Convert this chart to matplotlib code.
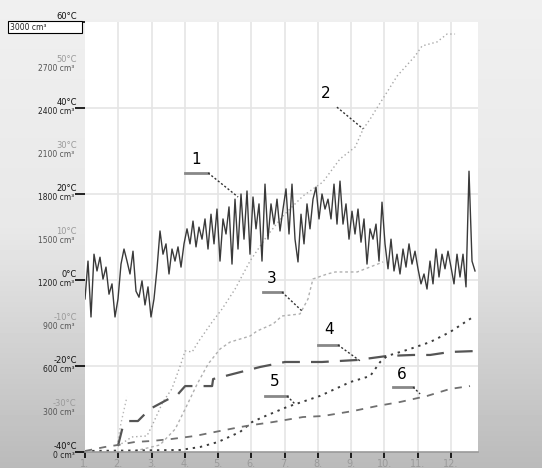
import numpy as np
import matplotlib
matplotlib.use("Agg")
import matplotlib.pyplot as plt
from matplotlib.patches import Rectangle
from matplotlib.transforms import offset_copy

# daily-ish temperature readings (deg C), spread evenly over the year
temps = [
    -4.4, 4.4, -8.6, 6.0, 2.1, 5.3,
    0.2, 3.0, -3.3, -0.9, -8.6, -4.4,
    3.7, 7.2, 4.4, 1.4, 6.7, -2.6,
    -4.0, -0.2, -5.8, -1.6, -8.6, -4.4,
    2.6, 11.4, 6.0, 8.4, 1.4, 7.2,
    4.4, 7.7, 3.0, 8.4, 11.9, 8.4,
    13.7, 7.7, 12.3, 9.5, 14.2, 7.2,
    15.3, 8.4, 16.5, 4.4, 14.2, 10.7,
    17.0, 3.7, 18.8, 7.2, 20.0, 9.5,
    20.7, 6.0, 19.3, 11.9, 17.7, 4.4,
    22.3, 9.5, 17.7, 13.0, 18.8, 11.4,
    16.5, 21.2, 10.7, 22.3, 9.5, 4.2,
    15.3, 8.4, 17.7, 11.9, 18.8, 21.6,
    14.2, 20.0, 16.5, 18.8, 14.2, 22.3,
    13.0, 23.0, 13.0, 17.7, 9.5, 16.0,
    10.7, 16.5, 8.8, 14.2, 3.7, 11.9,
    9.5, 13.0, 4.4, 18.1, 8.4, 2.6,
    9.5, 2.1, 6.0, 1.4, 7.2, 3.0,
    8.4, 3.7, 6.7, 2.6, -0.9, 1.4,
    -2.1, 4.4, -0.9, 7.2, 0.7, 6.0,
    2.6, 6.7, 3.0, -0.9, 6.0, 0.7,
    6.0, -1.6, 25.3, 4.4, 2.1,
]
temp_months = np.linspace(1.0, 12.72, len(temps))

# cumulative volumes (cm3) against month
line2_m = [1.99, 2.41, 2.86, 3.01, 3.34, 3.61, 3.86, 4.01, 4.22, 4.40, 4.82, 5.12, 5.51, 5.96,
           6.47, 6.95, 7.55, 8.15, 8.66, 9.12, 9.36, 9.57, 9.81, 10.08, 10.38, 10.92, 11.13,
           11.58, 11.88, 12.12]
line2_v = [42, 105, 112, 181, 349, 440, 600, 705, 698, 767, 907, 998, 1137, 1333,
           1507, 1647, 1786, 1884, 2044, 2128, 2254, 2323, 2414, 2512, 2623, 2763, 2833,
           2861, 2916, 2916]
spike_m = [1.96, 2.08, 2.26]
spike_v = [42, 200, 384]

line3_m = [2.50, 3.25, 3.71, 4.01, 4.37, 4.70, 5.06, 5.36, 5.96, 6.17, 6.65, 6.92, 7.46, 7.70,
           7.85, 8.28, 8.52, 9.18, 9.57, 9.96]
line3_v = [7, 49, 160, 300, 474, 614, 719, 767, 809, 844, 893, 949, 963, 1067,
           1207, 1242, 1256, 1256, 1291, 1326]

line4_m = [1.99, 2.14, 2.29, 2.59, 2.95, 3.40, 3.80, 4.01, 4.82, 4.85, 5.21, 6.26, 7.01, 8.12,
           9.18, 10.08, 10.86, 11.37, 11.97, 12.81]
line4_v = [42, 181, 216, 216, 300, 356, 405, 460, 460, 509, 530, 593, 628, 628,
           642, 670, 677, 677, 698, 705]

line5_m = [1.0, 3.86, 4.46, 5.00, 5.66, 6.02, 6.35, 7.07, 8.06, 8.97, 9.57, 9.87, 10.08, 10.77,
           11.37, 11.97, 12.66]
line5_v = [7, 14, 35, 70, 140, 209, 244, 314, 391, 488, 530, 628, 670, 719,
           767, 837, 942]

line6_m = [1.0, 1.60, 1.99, 2.50, 3.01, 3.61, 4.31, 4.91, 5.66, 6.02, 6.65, 7.55, 8.15, 9.06,
           9.78, 10.47, 11.28, 11.97, 12.57]
line6_v = [7, 35, 49, 70, 77, 91, 112, 140, 174, 188, 209, 244, 251, 286,
           321, 349, 391, 440, 460]

month_labels = ["1.", "2.", "3.", "4.", "5.", "6.", "7.", "8.", "9.", "10.", "11.", "12."]
temp_ticks = [-40, -30, -20, -10, 0, 10, 20, 30, 40, 50, 60]
vol_ticks = [0, 300, 600, 900, 1200, 1500, 1800, 2100, 2400, 2700, 3000]

# callout labels: number, text pos, underline (x0, x1, y), leader end
callouts = [
    ("1", (4.34, 1995), (4.01, 4.70, 1947), (5.60, 1779)),
    ("2", (8.24, 2456), None, (9.36, 2254)),
    ("3", (6.62, 1165), (6.35, 6.92, 1116), (7.52, 984)),
    ("4", (8.33, 809), (8.00, 8.60, 747), (9.27, 635)),
    ("5", (6.71, 447), (6.41, 7.07, 391), (7.31, 335)),
    ("6", (10.53, 495), (10.26, 10.86, 453), (11.07, 405)),
]

W, H = 542, 477
fig = plt.figure(figsize=(W / 100, H / 100), dpi=100)
fig.patch.set_facecolor("white")

# grey gradient backdrop
bg = fig.add_axes([0, 0, 1, 1])
rows = np.interp(np.arange(H), [0, 230, 468], [0.94, 0.91, 0.73])
rows[469:] = 1.0
grad = np.repeat(rows[:, None], 10, axis=1)
bg.imshow(grad, cmap="gray", vmin=0, vmax=1, aspect="auto", extent=[0, 1, 0, 1])
bg.axis("off")

ax = fig.add_axes([85 / W, (H - 453) / H, (478 - 85) / W, (453 - 23) / H])
ax.set_facecolor("white")
ax.set_xlim(1, 12.81)
ax.set_ylim(0, 3000)

for m in range(2, 13):
    ax.axvline(m, color="#e5e5e5", lw=1.2, zorder=0)
for v in [600, 1200, 1800, 2400]:
    ax.axhline(v, color="#e5e5e5", lw=1.2, zorder=0)

ax.plot(line2_m, line2_v, color="#a8a8a8", lw=1.0, dashes=(1, 2))
ax.plot(spike_m, spike_v, color="#b8b8b8", lw=1.0, dashes=(1, 2))
ax.plot(line3_m, line3_v, color="#b0b0b0", lw=1.0, dashes=(2, 2))
ax.plot(line4_m, line4_v, color="#555555", lw=1.6, dashes=(8, 5))
ax.plot(line5_m, line5_v, color="#3c3c3c", lw=1.4, dashes=(1.2, 2.5))
ax.plot(line6_m, line6_v, color="#707070", lw=1.3, dashes=(4, 4))

ax2 = ax.twinx()
ax2.set_ylim(-40, 60)
ax2.axis("off")
ax2.plot(temp_months, temps, color="#3a3a3a", lw=1.0)

for num, (tx, ty), ul, (lx, ly) in callouts:
    ax.text(tx, ty, num, fontsize=11, ha="center", va="bottom", color="black")
    if ul is not None:
        ax.plot([ul[0], ul[1]], [ul[2], ul[2]], color="#888888", lw=2)
        ax.plot([ul[1], lx], [ul[2], ly], color="#333333", lw=1, dashes=(1.5, 1.5))
    else:
        ax.plot([tx + 0.33, lx], [ty - 50, ly], color="#333333", lw=1, dashes=(1.5, 1.5))

for s in ["top", "left", "right"]:
    ax.spines[s].set_visible(False)
ax.spines["bottom"].set_color("#999999")
ax.spines["bottom"].set_linewidth(1.2)

ax.set_xticks(range(1, 13))
ax.set_xticklabels(month_labels, fontsize=7, color="#9a9a9a")
ax.tick_params(axis="x", length=4, width=1.2, color="black", pad=0.5)
ax.set_yticks([0, 600, 1200, 1800, 2400, 3000])
ax.set_yticklabels([])
ax.tick_params(axis="y", length=7, width=1.2, color="black")

ytrans = ax.get_yaxis_transform()
t_deg = offset_copy(ytrans, fig=fig, x=-6, y=5, units="points")
t_vol = offset_copy(ytrans, fig=fig, x=-7.5, y=-2, units="points")
for i, (t, v) in enumerate(zip(temp_ticks, vol_ticks)):
    major = i % 2 == 0
    ax.text(0, v, f"{t}°C", transform=t_deg, ha="right", va="center",
            fontsize=6, color="#111111" if major else "#9a9a9a")
    if v == 3000:
        continue
    ax.text(0, v, f"{v} cm³", transform=t_vol, ha="right", va="center",
            fontsize=5.5, color="#222222" if major else "#555555")

# boxed top value
fig.patches.append(Rectangle((8 / W, 1 - 34 / H), 74 / W, 12 / H, transform=fig.transFigure,
                             facecolor="white", edgecolor="black", lw=0.8))
fig.text(10 / W, 1 - 28 / H, "3000 cm³", fontsize=5.5, va="center", ha="left", color="#222222")

fig.savefig("out.png", dpi=100)
